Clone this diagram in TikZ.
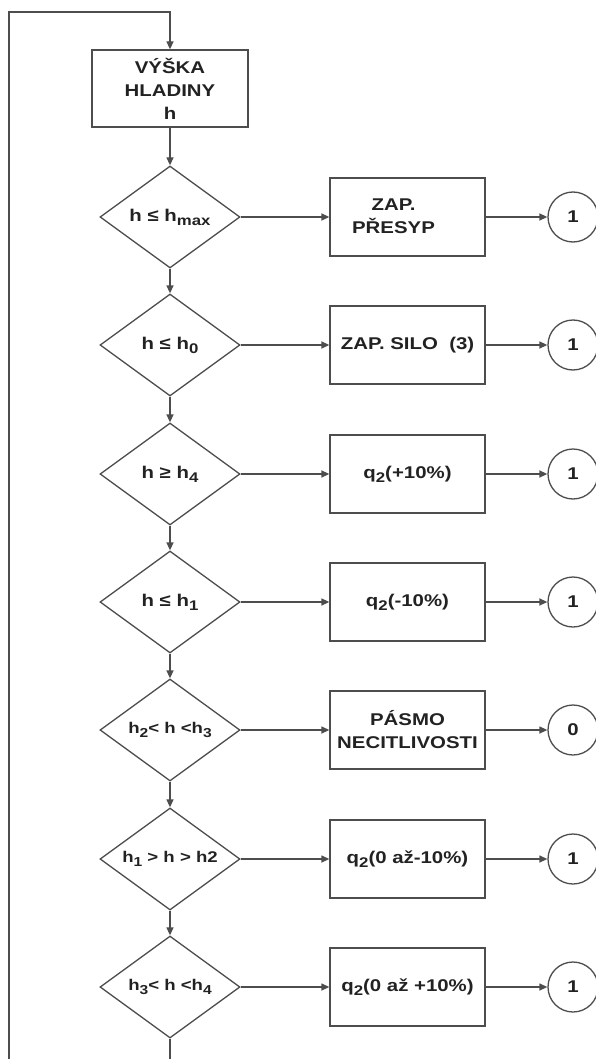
\documentclass[tikz,border=0pt]{standalone}
\usepackage{fontspec}
\setmainfont{Liberation Sans}[FakeStretch=1.2]
\usetikzlibrary{shapes.geometric,arrows.meta}
\definecolor{lc}{HTML}{4D4D4D}
\definecolor{tc}{HTML}{222222}
\newcommand{\lsub}[1]{\raisebox{-4pt}{\fontsize{14}{14}\selectfont #1}}
\newcommand{\ssub}[1]{\raisebox{-3.5pt}{\fontsize{13}{13}\selectfont #1}}
\newcommand{\zw}[1]{\makebox[0pt][c]{#1}}
\begin{document}
\begin{tikzpicture}[x=1pt,y=-1pt,
  box/.style={draw=lc, line width=1.3pt, minimum width=155pt, minimum height=78pt,
    align=center, inner sep=2pt, text=tc, font=\fontsize{17}{23}\selectfont\bfseries},
  qbox/.style={box},
  dec/.style={diamond, draw=lc, line width=1.3pt, minimum width=140pt, minimum height=102pt,
    inner sep=0pt, text=tc, font=\fontsize{17}{19}\selectfont\bfseries},
  sdec/.style={dec, font=\fontsize{15.5}{19}\selectfont\bfseries},
  term/.style={circle, draw=lc, line width=1.3pt, minimum size=50pt, inner sep=0pt,
    text=tc, font=\fontsize{17}{20}\selectfont\bfseries},
  arr/.style={draw=lc, line width=1.3pt, -{Triangle[length=8pt,width=7pt]}},
  ln/.style={draw=lc, line width=1.3pt}]
\path[use as bounding box, fill=white] (0,0) rectangle (595,1059);

\node[box, minimum width=156pt, minimum height=77pt] (start) at (170,88.5) {VÝŠKA\\HLADINY\\h};

\node[dec] (d1) at (170,217) {\zw{h ≤ h\lsub{max}}};
\node[dec] (d2) at (170,345) {\zw{h ≤ h\lsub{0}}};
\node[dec] (d3) at (170,474) {\zw{h ≥ h\lsub{4}}};
\node[dec] (d4) at (170,602) {\zw{h ≤ h\lsub{1}}};
\node[sdec] (d5) at (170,730) {\zw{h\ssub{2}< h <h\ssub{3}}};
\node[sdec] (d6) at (170,859) {\zw{h\ssub{1} > h > h2}};
\node[sdec] (d7) at (170,987) {\zw{h\ssub{3}< h <h\ssub{4}}};

\node[box] (b1) at (407.5,217) {\raisebox{5pt}{\begin{tabular}{@{}c@{}}ZAP.\\PŘESYP\end{tabular}}\hspace*{28pt}};
\node[box] (b2) at (407.5,345) {ZAP. SILO~~(3)};
\node[qbox] (b3) at (407.5,474) {q\lsub{2}(+10\%)};
\node[qbox] (b4) at (407.5,602) {q\lsub{2}(-10\%)};
\node[box] (b5) at (407.5,730) {PÁSMO\\NECITLIVOSTI};
\node[qbox] (b6) at (407.5,859) {q\lsub{2}(0 až-10\%)};
\node[qbox] (b7) at (407.5,987) {q\lsub{2}(0 až +10\%)};

\node[term] (c1) at (573,217) {1};
\node[term] (c2) at (573,345) {1};
\node[term] (c3) at (573,474) {1};
\node[term] (c4) at (573,602) {1};
\node[term] (c5) at (573,730) {0};
\node[term] (c6) at (573,859) {1};
\node[term] (c7) at (573,987) {1};

\draw[arr] (start.south) -- (d1.north);
\draw[arr] (d1.south) -- (d2.north);
\draw[arr] (d2.south) -- (d3.north);
\draw[arr] (d3.south) -- (d4.north);
\draw[arr] (d4.south) -- (d5.north);
\draw[arr] (d5.south) -- (d6.north);
\draw[arr] (d6.south) -- (d7.north);

\foreach \i in {1,...,7} {
  \draw[arr] (d\i.east) -- (b\i.west);
  \draw[arr] (b\i.east) -- (c\i.west);
}

\coordinate (bc) at (170,1059);
\coordinate (bl) at (9,1059);
\coordinate (tl) at (9,12);
\coordinate (tc) at (170,12);
\draw[ln] (d7.south) -- (bc);
\draw[arr] (bl) -- (tl) -- (tc) -- (start.north);
\end{tikzpicture}
\end{document}
